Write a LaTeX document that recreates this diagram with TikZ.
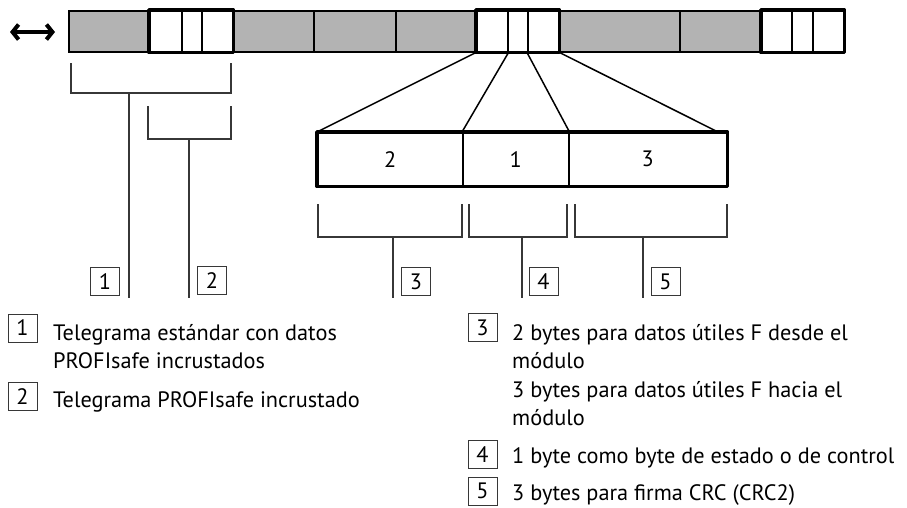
\documentclass[tikz,border=0pt]{standalone}
\usepackage{fontspec}
\setmainfont{PT Sans}
\usetikzlibrary{arrows.meta}
\definecolor{barGray}{RGB}{179,179,179}
\definecolor{lineGray}{RGB}{55,55,55}
\begin{document}
\begin{tikzpicture}[x=1pt,y=-1pt,
  every node/.style={font=\fontsize{22.3}{28.5}\selectfont},
  cell/.style={draw=black, line width=1.5pt, inner sep=0pt, anchor=north west, minimum height=41pt},
  gcell/.style={cell, fill=barGray},
  wcell/.style={cell, fill=white},
  thickframe/.style={draw=black, line width=3.5pt, line join=round},
  zcell/.style={draw=black, line width=1.5pt, inner sep=0pt, anchor=north west, minimum height=53pt},
  fan/.style={draw=black, line width=1.5pt},
  brace/.style={draw=lineGray, line width=1.2pt},
  stem/.style={draw=lineGray, line width=1.2pt},
  numbox/.style={draw=lineGray, line width=1pt, minimum width=29pt, minimum height=28pt, inner sep=0pt},
  legend/.style={anchor=base west, inner sep=0pt},
  dblarrow/.style={line width=4pt, {Straight Barb[length=6pt,width=15pt,line width=4pt]}-{Straight Barb[length=6pt,width=15pt,line width=4pt]}}
]
\useasboundingbox (0,0) rectangle (907,507);

% double arrow
\coordinate (arL) at (10,32);
\coordinate (arR) at (55,32);
\draw[dblarrow] (arL) -- (arR);

% top bar
\node[gcell, minimum width=81pt] (g1) at (68,10) {};
\node[wcell, minimum width=32pt] (w1a) at (149,10) {};
\node[wcell, minimum width=20pt] (w1b) at (181,10) {};
\node[wcell, minimum width=31pt] (w1c) at (201,10) {};
\node[gcell, minimum width=81pt] (g2) at (232,10) {};
\node[gcell, minimum width=82pt] (g3) at (313,10) {};
\node[gcell, minimum width=81pt] (g4) at (395,10) {};
\node[wcell, minimum width=31pt] (w2a) at (476,10) {};
\node[wcell, minimum width=20pt] (w2b) at (507,10) {};
\node[wcell, minimum width=31pt] (w2c) at (527,10) {};
\node[gcell, minimum width=121pt] (g5) at (558,10) {};
\node[gcell, minimum width=82pt] (g6) at (679,10) {};
\node[wcell, minimum width=30pt] (w3a) at (761,10) {};
\node[wcell, minimum width=21pt] (w3b) at (791,10) {};
\node[wcell, minimum width=31pt] (w3c) at (812,10) {};
\draw[thickframe] (w1a.north west) rectangle (w1c.south east);
\draw[thickframe] (w2a.north west) rectangle (w2c.south east);
\draw[thickframe] (w3a.north west) rectangle (w3c.south east);

% zoomed box
\node[zcell, minimum width=145pt] (z2) at (317,132) {2};
\node[zcell, minimum width=106pt] (z1) at (462,132) {1};
\node[zcell, minimum width=158pt] (z3) at (568,132) {3};
\draw[thickframe] (z2.north west) rectangle (z3.south east);

% fan lines
\coordinate (z3end) at (718,132);
\draw[fan] (w2a.south west) -- (z2.north west);
\draw[fan] (w2a.south east) -- (z1.north west);
\draw[fan] (w2c.south west) -- (z1.north east);
\draw[fan] (w2c.south east) -- (z3end);

% number boxes
\node[numbox] (n1) at (105,281.5) {1};
\node[numbox] (n2) at (212,280.5) {2};
\node[numbox] (n3) at (416,281.5) {3};
\node[numbox] (n4) at (543.5,281.5) {4};
\node[numbox] (n5) at (665.5,281.5) {5};

% brackets and stems
\draw[brace] (71,63) |- (231,93) -- (231,63);
\coordinate (b1) at (129,93);
\coordinate (e1) at (129,298);
\draw[stem] (b1) -- (e1);
\draw[brace] (148,106) |- (231,139) -- (231,106);
\coordinate (b2) at (189,139);
\coordinate (e2) at (189,298);
\draw[stem] (b2) -- (e2);
\draw[brace] (318,204) |- (462,237) -- (462,204);
\coordinate (b3) at (393,237);
\coordinate (e3) at (393,298);
\draw[stem] (b3) -- (e3);
\draw[brace] (469,204) |- (567,237) -- (567,204);
\coordinate (b4) at (522,237);
\coordinate (e4) at (522,298);
\draw[stem] (b4) -- (e4);
\draw[brace] (575,204) |- (727,237) -- (727,204);
\coordinate (b5) at (643,237);
\coordinate (e5) at (643,298);
\draw[stem] (b5) -- (e5);

% legend left
\node[numbox] (l1) at (22.5,328) {1};
\node[legend] (t1) at (53,340) {\vtop{\hbox{Telegrama estándar con datos}\hbox{PROFIsafe incrustados}}};
\node[numbox] (l2) at (22.5,396.5) {2};
\node[legend] (t2) at (53,407) {Telegrama PROFIsafe incrustado};

% legend right
\node[numbox] (l3) at (482.5,327.5) {3};
\node[legend] (t3) at (512,340) {\vtop{\hbox{2 bytes para datos útiles F desde el}\hbox{módulo}\hbox{3 bytes para datos útiles F hacia el}\hbox{módulo}}};
\node[numbox] (l4) at (482.5,454.5) {4};
\node[legend] (t4) at (512,463) {1 byte como byte de estado o de control};
\node[numbox] (l5) at (482.5,491) {5};
\node[legend] (t5) at (512,500) {3 bytes para firma CRC (CRC2)};
\end{tikzpicture}
\end{document}
